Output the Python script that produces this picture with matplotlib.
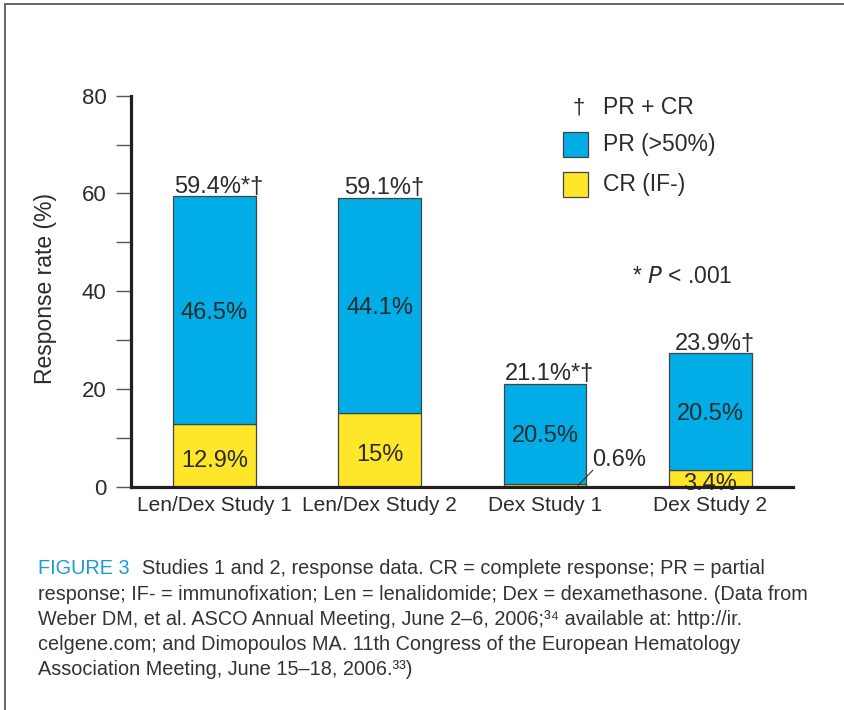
import matplotlib
matplotlib.use("Agg")
import matplotlib.pyplot as plt
from matplotlib.patches import Rectangle
from matplotlib.lines import Line2D

# Werte aus der Abbildung
categories = ["Len/Dex Study 1", "Len/Dex Study 2", "Dex Study 1", "Dex Study 2"]
cr_values = [12.9, 15.0, 0.6, 3.4]
pr_heights = [46.5, 44.1, 20.5, 23.9]      # so gezeichnet wie im Original
pr_labels = ["46.5%", "44.1%", "20.5%", "20.5%"]
cr_labels = ["12.9%", "15%", "0.6%", "3.4%"]
total_labels = ["59.4%*\u2020", "59.1%\u2020", "21.1%*\u2020", "23.9%\u2020"]
y_ticks = [0, 20, 40, 60, 80]
y_minor = [10, 30, 50, 70]

caption_head = "FIGURE 3"
caption_lines = [
    "Studies 1 and 2, response data. CR = complete response; PR = partial",
    "response; IF- = immunofixation; Len = lenalidomide; Dex = dexamethasone. (Data from",
    "Weber DM, et al. ASCO Annual Meeting, June 2\u20136, 2006;\u00b3\u2074 available at: http://ir.",
    "celgene.com; and Dimopoulos MA. 11th Congress of the European Hematology",
    "Association Meeting, June 15\u201318, 2006.\u00b3\u00b3)",
]

BLUE = "#00ade6"
YELLOW = "#ffe629"
TXT = "#2b2b2b"
FONT = ["Liberation Sans", "DejaVu Sans"]
plt.rcParams["font.family"] = FONT

W, H = 844, 710
fig = plt.figure(figsize=(W / 100, H / 100), dpi=100)

# Achsenrahmen in Pixeln: links 131, rechts 793, unten 486.7, oben 95.7
ax = fig.add_axes([131 / W, 1 - 486.7 / H, (793 - 131) / W, (486.7 - 95.7) / H])

x = list(range(len(categories)))
bw = 0.5
ax.bar(x, cr_values, bw, color=YELLOW, edgecolor="#444444", linewidth=0.9)
ax.bar(x, pr_heights, bw, bottom=cr_values, color=BLUE, edgecolor="#444444", linewidth=0.9)

ax.set_xlim(-0.505, 3.5)
ax.set_ylim(0, 80)
ax.set_yticks(y_ticks)
ax.set_yticks(y_minor, minor=True)
ax.set_xticks(x)
ax.set_xticklabels(categories, fontsize=15, color=TXT)
ax.tick_params(axis="x", length=0, pad=7)
ax.tick_params(axis="y", which="both", length=11, width=1.0, color="#555555",
               labelsize=16, labelcolor=TXT, pad=6.5)

for s in ["top", "right"]:
    ax.spines[s].set_visible(False)
for s in ["left", "bottom"]:
    ax.spines[s].set_linewidth(2.3)
    ax.spines[s].set_color("#231f20")

# Beschriftungen in den Balken
for i in x:
    top = cr_values[i] + pr_heights[i]
    ax.annotate(total_labels[i], (i + 0.025, top), xytext=(0, 2.5),
                textcoords="offset points", ha="center", va="baseline",
                fontsize=17, color=TXT)
    ax.text(i, cr_values[i] + pr_heights[i] / 2, pr_labels[i], ha="center",
            va="center_baseline", fontsize=17, color=TXT, zorder=2.2)
    if cr_values[i] >= 2:
        ax.text(i, cr_values[i] / 2 - 0.6, cr_labels[i], ha="center",
                va="center_baseline", fontsize=17, color=TXT, zorder=2.2)
    else:
        ax.text(i + 0.285, 4.3, cr_labels[i], ha="left", va="baseline",
                fontsize=17, color=TXT)
        ax.annotate("", xy=(i + 0.2, cr_values[i] / 2), xytext=(i + 0.29, 3.4),
                    arrowprops=dict(arrowstyle="-", color="#333333", lw=0.8,
                                    shrinkA=0, shrinkB=0))


def fx(px):
    return (px - 131) / (793 - 131)


def fy(py):
    return (486.7 - py) / (486.7 - 95.7)


# Legende von Hand
ax.text(fx(578.5), fy(108), "\u2020", transform=ax.transAxes, ha="center",
        va="center", fontsize=16, color=TXT)
ax.text(fx(603), fy(108), "PR + CR", transform=ax.transAxes, ha="left",
        va="center", fontsize=16.5, color=TXT)
for (y0, y1), col, lab in [((132, 157), BLUE, "PR (>50%)"),
                           ((172, 197), YELLOW, "CR (IF-)")]:
    ax.add_patch(Rectangle((fx(563), fy(y1)), fx(588) - fx(563), fy(y0) - fy(y1),
                           transform=ax.transAxes, facecolor=col,
                           edgecolor="#444444", linewidth=0.9, clip_on=False))
    ax.text(fx(603), fy((y0 + y1) / 2), lab, transform=ax.transAxes, ha="left",
            va="center", fontsize=16.5, color=TXT)

ax.text(fx(632), fy(277), "* $\\it{P}$ < .001", transform=ax.transAxes,
        ha="left", va="center", fontsize=16.5, color=TXT)

fig.text(46 / W, 1 - 288 / H, "Response rate (%)", rotation=90, ha="center",
         va="center", fontsize=16.5, color=TXT)

# Bildunterschrift
fig.canvas.draw()
renderer = fig.canvas.get_renderer()
base0 = 574.5
step = 25.2
cap_size = 14.3
head = fig.text(38 / W, 1 - base0 / H, caption_head, fontsize=cap_size,
                color="#1b9bd7", va="baseline")
bb = head.get_window_extent(renderer)
fig.text((bb.x1 + 12) / W, 1 - base0 / H, caption_lines[0], fontsize=cap_size,
         color="#333333", va="baseline")
for k, line in enumerate(caption_lines[1:], start=1):
    fig.text(38 / W, 1 - (base0 + k * step) / H, line, fontsize=cap_size,
             color="#333333", va="baseline")

# Rahmen oben und links
fig.add_artist(Line2D([5 / W, 1], [1 - 4 / H, 1 - 4 / H], transform=fig.transFigure,
                      color="#666666", lw=1.4))
fig.add_artist(Line2D([5 / W, 5 / W], [0, 1 - 4 / H], transform=fig.transFigure,
                      color="#666666", lw=1.4))

fig.savefig("out.png", dpi=100)
